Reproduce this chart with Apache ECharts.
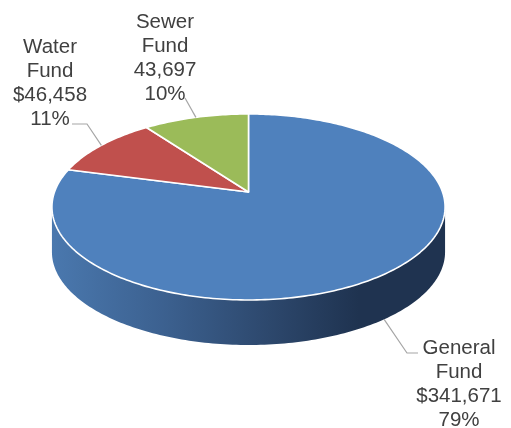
<!DOCTYPE html>
<html>
<head>
<meta charset="utf-8">
<script src="https://cdn.jsdelivr.net/npm/echarts@6/dist/echarts.min.js"></script>
<style>
  html, body { margin: 0; padding: 0; background: #ffffff; }
  #chart { width: 511px; height: 428px; }
</style>
</head>
<body>
<div id="chart"></div>
<script>
// Fund totals, drawn clockwise from 12 o'clock
const categories = ['General\nFund', 'Water\nFund', 'Sewer\nFund'];
const values = [341671, 46458, 43697];
const valuePrefixes = ['$', '$', ''];
const colors = ['#4F81BD', '#C0504D', '#9BBB59'];

// Tilted-disc projection (perspective view of a flat pie)
const disc = { cx: 248.5, cy: 192, A: 194, B: 90.6, p: 0.161, depth: 45 };
// Label anchor boxes and leader elbows
const labelLayout = [
  { x: 459, y: 336, leader: (a) => [a, [407, 353], [418, 353]] },
  { x: 50,  y: 35,  leader: (a) => [[72, 124], [87, 124], a] },
  { x: 165, y: 10,  leader: (a) => [[185, 98], a] }
];

const total = values.reduce((s, v) => s + v, 0);
const sweeps = values.map(v => v / total * Math.PI * 2);
const starts = [];
sweeps.reduce((acc, s, i) => { starts[i] = acc; return acc + s; }, 0);

function proj(theta, drop) {
  const u = Math.sin(theta), v = Math.cos(theta);
  const s = 1 / (1 + disc.p * v);
  return [disc.cx + disc.A * u * s, disc.cy - disc.B * v * s + (drop || 0)];
}
// visible front rim lies between the two silhouette points
const frontStart = Math.acos(-disc.p);
const frontEnd = Math.PI * 2 - frontStart;

function arc(a0, a1, drop) {
  const n = Math.max(2, Math.ceil(Math.abs(a1 - a0) / (Math.PI / 180)));
  const pts = [];
  for (let k = 0; k <= n; k++) pts.push(proj(a0 + (a1 - a0) * k / n, drop));
  return pts;
}

const wallStops = [
  { offset: 0, color: '#4a78ae' },
  { offset: 0.28, color: '#3c6190' },
  { offset: 0.55, color: '#2d486d' },
  { offset: 0.78, color: '#1f3350' },
  { offset: 1, color: '#1f3350' }
];

function renderItem(params, api) {
  const i = params.dataIndex;
  const val = api.value(0);
  const a0 = starts[i], a1 = a0 + sweeps[i];
  const children = [];

  // side wall of the slice (front part only)
  const f0 = Math.max(a0, frontStart), f1 = Math.min(a1, frontEnd);
  if (f1 > f0) {
    const top = arc(f0, f1, 0);
    const bottom = arc(f1, f0, disc.depth);
    const xs = top.map(p => p[0]);
    const minX = Math.min.apply(null, xs), maxX = Math.max.apply(null, xs);
    const grad = new echarts.graphic.LinearGradient(minX, 0, maxX, 0, wallStops, true);
    children.push({
      type: 'polygon', z2: 1,
      shape: { points: top.concat(bottom) },
      style: { fill: grad, stroke: null }
    });
  }

  // top face of the slice
  const face = [[disc.cx, disc.cy]].concat(arc(a0, a1, 0));
  children.push({
    type: 'polygon', z2: 10,
    shape: { points: face },
    style: { fill: colors[i], stroke: '#ffffff', lineWidth: 1.6, lineJoin: 'round' }
  });

  // leader line from the slice's mid-angle
  const mid = (a0 + a1) / 2;
  const onFront = mid > frontStart && mid < frontEnd;
  const anchor = proj(mid, onFront ? disc.depth : 0);
  const lay = labelLayout[i];
  children.push({
    type: 'polyline', z2: 20,
    shape: { points: lay.leader(anchor) },
    style: { stroke: '#a6a6a6', lineWidth: 1.2, fill: null }
  });

  // data label
  const pct = Math.round(val / total * 100) + '%';
  children.push({
    type: 'text', z2: 20,
    x: lay.x, y: lay.y,
    style: {
      text: categories[i] + '\n' + valuePrefixes[i] + val.toLocaleString('en-US') + '\n' + pct,
      fill: '#404040',
      font: '20.5px "Liberation Sans", Arial, sans-serif',
      lineHeight: 24,
      align: 'center',
      verticalAlign: 'top'
    }
  });

  return { type: 'group', children };
}

const chart = echarts.init(document.getElementById('chart'), null, { renderer: 'canvas' });
chart.setOption({
  animation: false,
  backgroundColor: '#ffffff',
  series: [{
    type: 'custom',
    coordinateSystem: 'none',
    renderItem: renderItem,
    data: values.map(v => [v])
  }]
});
</script>
</body>
</html>
